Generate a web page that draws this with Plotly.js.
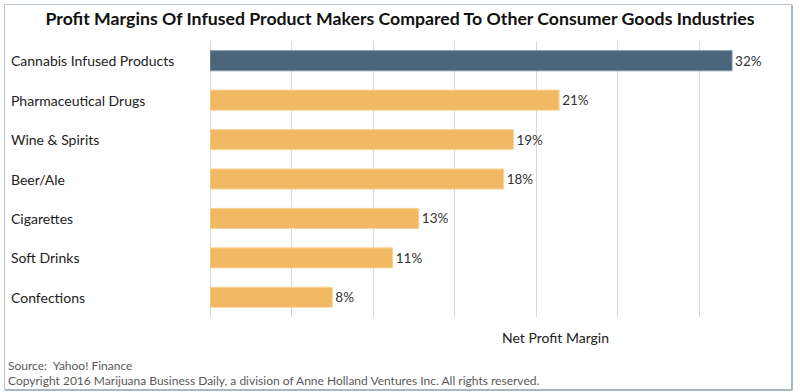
<!DOCTYPE html>
<html>
<head>
<meta charset="utf-8">
<script src="https://cdn.plot.ly/plotly-3.0.1.min.js"></script>
<style>
  html, body { margin: 0; padding: 0; background: #fff; }
  #wrap { position: relative; width: 800px; height: 392px; }
  #chart { width: 800px; height: 392px; }
  #frame { position: absolute; left: 4px; top: 4px; width: 786px; height: 384px;
           border: 1px solid #b9c5d1; border-right: 2px solid #a9b6c3; border-bottom: 2px solid #a9b6c3;
           border-radius: 2px; pointer-events: none; }
</style>
</head>
<body>
<div id="wrap">
  <div id="chart"></div>
  <div id="frame"></div>
</div>
<script>
const categories = ["Cannabis Infused Products", "Pharmaceutical Drugs", "Wine & Spirits", "Beer/Ale", "Cigarettes", "Soft Drinks", "Confections"];
const margins = [32, 21.4, 18.6, 18, 12.8, 11.2, 7.5];
const marginLabels = ["32%", "21%", "19%", "18%", "13%", "11%", "8%"];
const barColors = ["#4a6579", "#f1b963", "#f1b963", "#f1b963", "#f1b963", "#f1b963", "#f1b963"];
const barEdges = ["#7d95a6", "#f7d59c", "#f7d59c", "#f7d59c", "#f7d59c", "#f7d59c", "#f7d59c"];

const FONT = "Lato, 'Open Sans', sans-serif";
const L = 210, R = 19, T = 41, B = 74.5, W = 800, H = 392;
const plotW = W - L - R, plotH = H - T - B;
const px2x = p => (p - L) / plotW;
const py2y = p => 1 - (p - T) / plotH;

const trace = {
  type: "bar",
  orientation: "h",
  y: categories,
  x: margins,
  text: marginLabels,
  textposition: "outside",
  cliponaxis: false,
  textfont: { family: FONT, size: 13.5, color: "#333333" },
  marker: { color: barColors, line: { color: barEdges, width: 1 } },
  hoverinfo: "skip"
};

const annotations = categories.map(c => ({
  xref: "paper", yref: "y", x: px2x(9), y: c, text: c,
  xanchor: "left", yanchor: "middle", showarrow: false,
  font: { family: FONT, size: 14, color: "#222" }
}));
annotations.push({
  xref: "paper", yref: "paper", x: px2x(555), y: py2y(338), text: "Net Profit Margin",
  xanchor: "center", yanchor: "middle", showarrow: false,
  font: { family: FONT, size: 14, color: "#222" }
});
annotations.push({
  xref: "paper", yref: "paper", x: px2x(6), y: py2y(366), text: "Source:  Yahoo! Finance",
  xanchor: "left", yanchor: "middle", showarrow: false,
  font: { family: FONT, size: 12, color: "#595959" }
});
annotations.push({
  xref: "paper", yref: "paper", x: px2x(6), y: py2y(381),
  text: "Copyright 2016 Marijuana Business Daily, a division of Anne Holland Ventures Inc. All rights reserved.",
  xanchor: "left", yanchor: "middle", showarrow: false,
  font: { family: FONT, size: 12, color: "#595959" }
});

const layout = {
  width: W, height: H,
  margin: { l: L, r: R, t: T, b: B, pad: 0 },
  paper_bgcolor: "#ffffff", plot_bgcolor: "#ffffff",
  showlegend: false,
  bargap: 0.49,
  title: {
    text: "<b>Profit Margins Of Infused Product Makers Compared To Other Consumer Goods Industries</b>",
    font: { family: FONT, size: 17.7, color: "#111" },
    x: 0.5, xref: "container", xanchor: "center",
    y: 1 - 19 / H, yref: "container", yanchor: "middle"
  },
  xaxis: {
    range: [0, 35], dtick: 5, tick0: 0,
    showgrid: true, gridcolor: "#d9d9d9", gridwidth: 1,
    zeroline: true, zerolinecolor: "#d9d9d9", zerolinewidth: 1,
    showticklabels: false, ticks: "", showline: false, fixedrange: true
  },
  yaxis: {
    autorange: "reversed", showticklabels: false, ticks: "",
    showgrid: false, zeroline: false, showline: false, fixedrange: true
  },
  annotations: annotations
};

Plotly.newPlot("chart", [trace], layout, { displayModeBar: false, staticPlot: true });
</script>
</body>
</html>
